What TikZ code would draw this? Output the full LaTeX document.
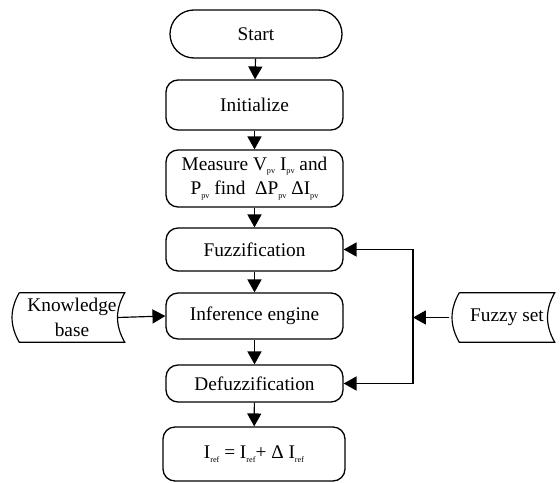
\documentclass[tikz,border=0pt]{standalone}
\usepackage{fontspec}
\setmainfont{Liberation Serif}
\usetikzlibrary{arrows.meta}
\newcommand{\lowsub}[1]{\raisebox{-0.4ex}{\fontsize{7}{8}\selectfont #1}}

\begin{document}
\begin{tikzpicture}[
	x=0.03cm, y=-0.03cm,
	every node/.style={ font=\fontsize{16.5}{21}\selectfont },
	box/.style={ draw, line width=1.1pt, rounded corners=0.36cm, minimum width=5.31cm, align=center, inner sep=2pt },
	term/.style={ draw, line width=1.1pt, rounded corners=0.72cm, minimum width=5.16cm, minimum height=1.44cm },
	store/.style={ minimum height=1.47cm, align=center, inner sep=1pt },
	arr/.style={ line width=1pt, -{Triangle[length=11pt,width=12pt]} }
]
\useasboundingbox (0,0) rectangle (560,483);

\node[term] at (256,34) (start) {Start};
\node[box, minimum height=1.5cm] at (254.5,105) (init) {Initialize};
\node[box, minimum height=1.71cm] at (254.5,178.5) (meas) {Measure V\lowsub{pv} I\lowsub{pv} and\\P\lowsub{pv} find \ ΔP\lowsub{pv} ΔI\lowsub{pv}};
\node[box, minimum height=1.29cm] at (254.5,249.5) (fuzz) {Fuzzification};
\node[box, minimum height=1.38cm] at (254.5,316) (inf) {Inference engine};
\node[box, minimum height=1.11cm] at (254.5,383.5) (defuzz) {Defuzzification};
\node[box, minimum width=5.46cm, minimum height=1.62cm] at (254,454) (iref) {I\lowsub{ref} = I\lowsub{ref}+ Δ I\lowsub{ref}};

\node[store, minimum width=3.15cm] at (72,317.5) (kb) {Knowledge\\base};
\draw[line width=1pt] (kb.north west) -- (kb.north east) to[out=240,in=120] (kb.south east) -- (kb.south west) to[out=120,in=240] (kb.north west);
\node[store, minimum width=2.85cm] at (507,317.5) (fs) {Fuzzy set};
\draw[line width=1pt] (fs.north west) -- (fs.north east) to[out=240,in=120] (fs.south east) -- (fs.south west) to[out=120,in=240] (fs.north west);

\draw[arr] (start) -- (init);
\draw[arr] (init) -- (meas);
\draw[arr] (meas) -- (fuzz);
\draw[arr] (fuzz) -- (inf);
\draw[arr] (inf) -- (defuzz);
\draw[arr] (defuzz) -- (iref);
\draw[arr] ([xshift=-0.21cm]kb.east) -- (inf.west);

\coordinate (bus) at (413,317.5);
\draw[arr] ([xshift=-0.3cm]fs.west) -- (bus);
\draw[arr] (bus) |- (fuzz.east);
\draw[arr] (bus) |- (defuzz.east);

\end{tikzpicture}
\end{document}
